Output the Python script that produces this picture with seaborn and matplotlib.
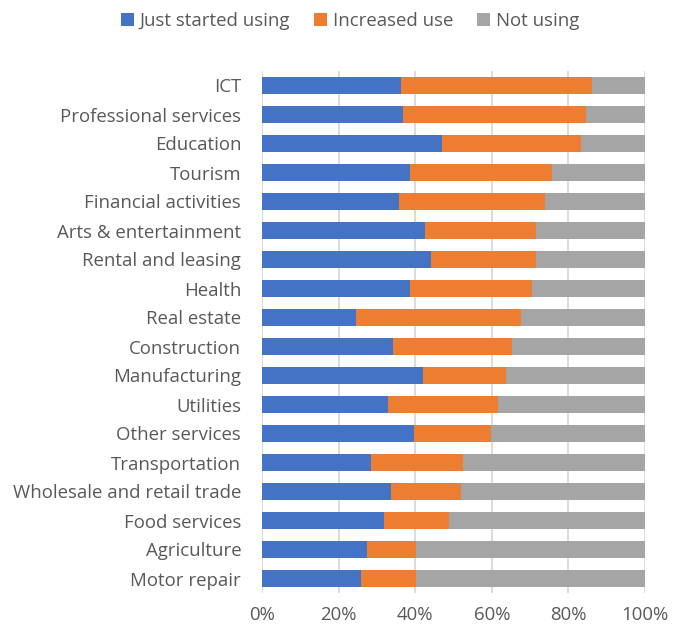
import matplotlib
matplotlib.use("Agg")
import matplotlib.pyplot as plt
from matplotlib.patches import Patch
import numpy as np
import pandas as pd
import seaborn as sns

sectors = [
    "ICT", "Professional services", "Education", "Tourism",
    "Financial activities", "Arts & entertainment", "Rental and leasing",
    "Health", "Real estate", "Construction", "Manufacturing", "Utilities",
    "Other services", "Transportation", "Wholesale and retail trade",
    "Food services", "Agriculture", "Motor repair",
]
just_started = [36.3, 36.8, 47.0, 38.7, 35.8, 42.6, 44.2, 38.7, 24.6, 34.2,
                42.1, 33.0, 39.7, 28.4, 33.7, 31.8, 27.5, 25.8]
increased = [49.8, 47.7, 36.2, 36.9, 38.0, 29.0, 27.4, 31.7, 43.1, 31.2,
             21.7, 28.5, 20.2, 24.1, 18.3, 16.9, 12.7, 14.4]
not_using = [13.9, 15.5, 16.8, 24.4, 26.2, 28.4, 28.4, 29.6, 32.3, 34.6,
             36.2, 38.5, 40.1, 47.5, 48.0, 51.3, 59.8, 59.8]

series_names = ["Just started using", "Increased use", "Not using"]
colors = ["#4472C4", "#ED7D31", "#A5A5A5"]

df = pd.DataFrame({
    "sector": sectors,
    "a": just_started,
    "b": increased,
    "c": not_using,
})
df["ab"] = df["a"] + df["b"]
df["abc"] = df["ab"] + df["c"]

sns.set_theme(style="white")
plt.rcParams["font.family"] = ["Open Sans", "DejaVu Sans"]
text_color = "#595959"
fs = 13.4

fig = plt.figure(figsize=(6.73, 6.32), dpi=100)
ax = fig.add_axes([262 / 673, 1 - 593 / 632, (645 - 262) / 673, (593 - 71) / 632])

# stacked bars drawn back to front from cumulative totals
for col, color in zip(["abc", "ab", "a"], colors[::-1]):
    sns.barplot(data=df, x=col, y="sector", orient="h", color=color,
                width=0.59, ax=ax, saturation=1, linewidth=0)

ax.set_xlim(0, 100)
ax.set_ylim(len(sectors) - 0.5, -0.5)
ax.set_xticks(np.arange(0, 101, 20))
ax.set_xticklabels([f"{v}%" for v in range(0, 101, 20)])
ax.set_xlabel("")
ax.set_ylabel("")
ax.xaxis.grid(True, color="#d9d9d9", linewidth=1.3)
ax.set_axisbelow(True)
for s in ax.spines.values():
    s.set_visible(False)
ax.tick_params(axis="x", length=0, pad=9, labelsize=fs, labelcolor=text_color)
ax.tick_params(axis="y", length=0, pad=15, labelsize=fs, labelcolor=text_color)

handles = [Patch(facecolor=c, edgecolor="none") for c in colors]
fig.legend(handles, series_names, loc="center", bbox_to_anchor=(350 / 673, 1 - 21 / 632),
           ncol=3, frameon=False, fontsize=fs, labelcolor=text_color,
           handlelength=0.7, handleheight=0.7, handletextpad=0.3, columnspacing=1.3)

fig.savefig("out.png", dpi=100)
